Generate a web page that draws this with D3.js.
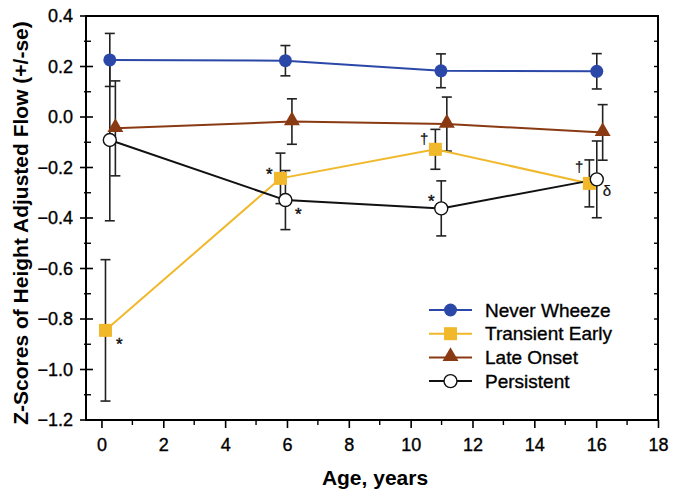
<!DOCTYPE html>
<html>
<head>
<meta charset="utf-8">
<script src="https://cdn.jsdelivr.net/npm/d3@7/dist/d3.min.js"></script>
<style>
  body { margin: 0; background: #fff; }
  text { font-family: "Liberation Sans", Arial, Helvetica, sans-serif; }
</style>
</head>
<body>
<svg id="chart" width="679" height="502"></svg>
<script>
// ---- data ----
const seriesNames = ["Never Wheeze", "Transient Early", "Late Onset", "Persistent"];
const neverAge = [0.27, 5.95, 10.98, 16.02];
const neverVal = [0.226, 0.223, 0.183, 0.181];
const neverSe  = [0.105, 0.060, 0.067, 0.070];
const transAge = [0.13, 5.79, 10.80, 15.78];
const transVal = [-0.845, -0.243, -0.128, -0.263];
const transSe  = [0.280, 0.100, 0.079, 0.093];
const lateAge  = [0.45, 6.16, 11.17, 16.21];
const lateVal  = [-0.045, -0.018, -0.028, -0.061];
const lateSe   = [0.188, 0.090, 0.107, 0.110];
const persAge  = [0.27, 5.95, 10.99, 16.02];
const persVal  = [-0.091, -0.329, -0.362, -0.247];
const persSe   = [0.320, 0.117, 0.109, 0.152];
const xTicks = [0, 2, 4, 6, 8, 10, 12, 14, 16, 18];
const yTicks = [0.4, 0.2, 0.0, -0.2, -0.4, -0.6, -0.8, -1.0, -1.2];
// significance marks
const markAge = [0.58, 5.43, 6.37, 10.44, 10.67, 15.45, 16.35];
const markVal = [-0.891, -0.218, -0.376, -0.091, -0.325, -0.202, -0.297];
const markSym = ["*", "*", "*", "\u2020", "*", "\u2020", "\u03b4"];

// ---- layout ----
const svg = d3.select("#chart");
const pL = 86, pR = 658, pT = 16, pB = 420;
const x = d3.scaleLinear().domain([-0.5, 18]).range([pL, pR]);
const y = d3.scaleLinear().domain([-1.2, 0.4]).range([pB, pT]);

const colors = ["#2b48a8", "#f0b82a", "#8a3a12", "#111111"];

// frame
svg.append("rect").attr("x", pL).attr("y", pT)
  .attr("width", pR - pL).attr("height", pB - pT)
  .attr("fill", "none").attr("stroke", "#000").attr("stroke-width", 2);

// left axis
const gy = svg.append("g").attr("transform", `translate(${pL},0)`);
gy.call(d3.axisLeft(y).tickValues(yTicks).tickFormat(d3.format(".1f")).tickSize(0).tickPadding(13))
  .call(g => g.select(".domain").remove());
gy.selectAll(".tick text").attr("font-size", 18).attr("fill", "#000")
  .attr("stroke", "#000").attr("stroke-width", 0.35);
const yMinor = d3.range(-1.1, 0.4, 0.2);
gy.selectAll(".ymaj").data(yTicks).join("line")
  .attr("x1", -6).attr("x2", 7).attr("y1", d => y(d)).attr("y2", d => y(d))
  .attr("stroke", "#000").attr("stroke-width", 1.6);
gy.selectAll(".ymin").data(yMinor).join("line")
  .attr("x1", -2).attr("x2", 5).attr("y1", d => y(d)).attr("y2", d => y(d))
  .attr("stroke", "#000").attr("stroke-width", 1.4);

// right border inward small ticks
svg.append("g").selectAll("line").data(d3.range(-1.1, 0.4, 0.1)).join("line")
  .attr("x1", pR - 4).attr("x2", pR).attr("y1", d => y(d)).attr("y2", d => y(d))
  .attr("stroke", "#000").attr("stroke-width", 1.4);

// bottom axis
const gx = svg.append("g").attr("transform", `translate(0,${pB})`);
gx.call(d3.axisBottom(x).tickValues(xTicks).tickFormat(d3.format("d")).tickSize(8).tickPadding(10))
  .call(g => g.select(".domain").remove());
gx.selectAll(".tick line").attr("stroke", "#000").attr("stroke-width", 1.6);
gx.selectAll(".tick text").attr("font-size", 18).attr("fill", "#000")
  .attr("stroke", "#000").attr("stroke-width", 0.35);
gx.selectAll(".xmin").data(d3.range(1, 18, 2)).join("line")
  .attr("x1", d => x(d)).attr("x2", d => x(d)).attr("y1", 0).attr("y2", 5)
  .attr("stroke", "#000").attr("stroke-width", 1.4);

// axis titles
svg.append("text").attr("x", 375).attr("y", 485)
  .attr("text-anchor", "middle").attr("font-size", 21).attr("font-weight", "bold")
  .text("Age, years");
svg.append("text").attr("transform", `translate(28,223) rotate(-90)`)
  .attr("text-anchor", "middle").attr("font-size", 21).attr("font-weight", "bold")
  .text("Z-Scores of Height Adjusted Flow (+/-se)");

// series
const series = [
  {age: neverAge, val: neverVal, se: neverSe, shape: "circle"},
  {age: transAge, val: transVal, se: transSe, shape: "square"},
  {age: lateAge, val: lateVal, se: lateSe, shape: "triangle"},
  {age: persAge, val: persVal, se: persSe, shape: "open"}
].map((s, i) => ({...s, name: seriesNames[i], color: colors[i],
  pts: s.age.map((a, j) => ({a, v: s.val[j], e: s.se[j]}))}));

// error bars
const errG = svg.append("g");
series.forEach(s => {
  s.pts.forEach(p => {
    const g = errG.append("g").attr("stroke", "#222").attr("stroke-width", 1.6);
    g.append("line").attr("x1", x(p.a)).attr("x2", x(p.a)).attr("y1", y(p.v + p.e)).attr("y2", y(p.v - p.e));
    g.append("line").attr("x1", x(p.a) - 5).attr("x2", x(p.a) + 5).attr("y1", y(p.v + p.e)).attr("y2", y(p.v + p.e));
    g.append("line").attr("x1", x(p.a) - 5).attr("x2", x(p.a) + 5).attr("y1", y(p.v - p.e)).attr("y2", y(p.v - p.e));
  });
});

const line = d3.line().x(p => x(p.a)).y(p => y(p.v));
function drawMarker(g, shape, color, cx, cy) {
  if (shape === "circle") {
    g.append("circle").attr("cx", cx).attr("cy", cy).attr("r", 6.5).attr("fill", color);
  } else if (shape === "square") {
    g.append("rect").attr("x", cx - 6.5).attr("y", cy - 6.5).attr("width", 13).attr("height", 13).attr("fill", color);
  } else if (shape === "triangle") {
    g.append("path").attr("d", d3.symbol(d3.symbolTriangle, 110)()).attr("transform", `translate(${cx},${cy - 1})`).attr("fill", color);
  } else {
    g.append("circle").attr("cx", cx).attr("cy", cy).attr("r", 6.5).attr("fill", "#fff").attr("stroke", color).attr("stroke-width", 1.4);
  }
}
series.forEach(s => {
  svg.append("path").datum(s.pts).attr("d", line).attr("fill", "none")
    .attr("stroke", s.color).attr("stroke-width", 2);
});
series.forEach(s => {
  const g = svg.append("g");
  s.pts.forEach(p => drawMarker(g, s.shape, s.color, x(p.a), y(p.v)));
});

// significance marks
svg.append("g").selectAll("text").data(markSym).join("text")
  .attr("x", (d, i) => x(markAge[i])).attr("y", (d, i) => y(markVal[i]))
  .attr("text-anchor", "middle").attr("dominant-baseline", "middle")
  .attr("dy", d => d === "*" ? "0.22em" : "0")
  .attr("font-size", d => d === "*" ? 17 : 15).attr("fill", "#111")
  .attr("stroke", "#111").attr("stroke-width", d => d === "*" ? 0.4 : 0.2)
  .text(d => d);

// legend
const leg = svg.append("g");
const legY0 = 310, legDy = 23.7;
series.forEach((s, i) => {
  const yy = legY0 + i * legDy;
  leg.append("line").attr("x1", 429).attr("x2", 472).attr("y1", yy).attr("y2", yy)
    .attr("stroke", s.color).attr("stroke-width", 2);
  drawMarker(leg, s.shape, s.color, 450.5, yy);
  leg.append("text").attr("x", 485).attr("y", yy).attr("dominant-baseline", "central")
    .attr("font-size", 19).attr("fill", "#000")
    .attr("stroke", "#000").attr("stroke-width", 0.35).text(s.name);
});
</script>
</body>
</html>
